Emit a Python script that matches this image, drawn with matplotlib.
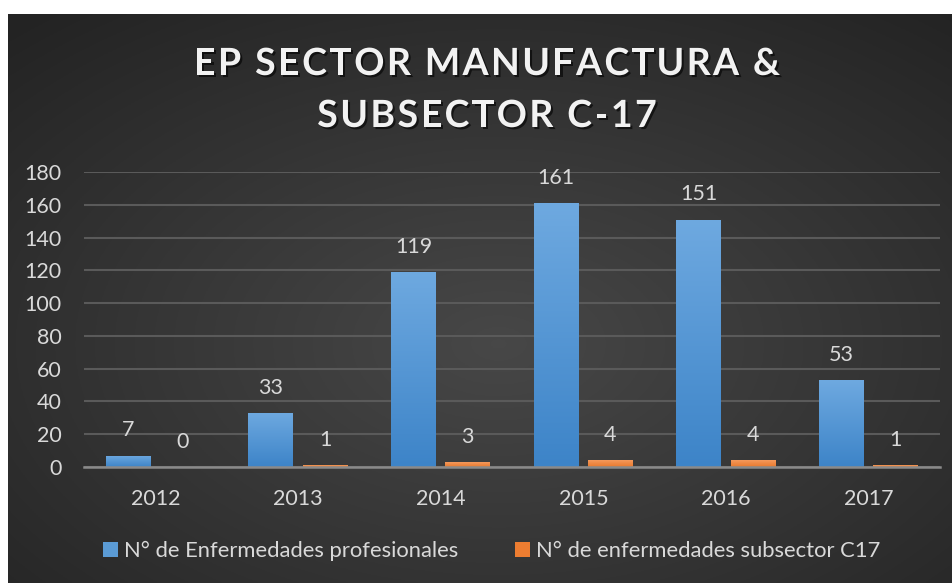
import numpy as np
import matplotlib
matplotlib.use('Agg')
import matplotlib.pyplot as plt
from matplotlib.patches import Patch
import matplotlib.patheffects as pe

# Data
years = ['2012', '2013', '2014', '2015', '2016', '2017']
ep_total = [7, 33, 119, 161, 151, 53]
ep_c17 = [0, 1, 3, 4, 4, 1]
series_names = ['N° de Enfermedades profesionales', 'N° de enfermedades subsector C17']
title_lines = ['EP SECTOR MANUFACTURA &', 'SUBSECTOR C-17']

plt.rcParams['font.family'] = ['Lato', 'DejaVu Sans']
txt_color = '#d9d9d9'
fs = 15.5

fig = plt.figure(figsize=(9.52, 5.83), dpi=100, facecolor='white')

# Dark panel with radial gradient
bg = fig.add_axes([8 / 952, 0, 944 / 952, 569 / 583], zorder=-5)
yy, xx = np.mgrid[0:1:300j, 0:1:500j]
r = np.sqrt(((xx - 0.52) / 0.75) ** 2 + ((yy - 0.42) / 0.75) ** 2)
shade = np.clip(0.28 - 0.14 * r, 0.14, 0.285)
bg.imshow(np.dstack([shade] * 3), extent=[0, 1, 0, 1], aspect='auto', origin='lower')
bg.set_axis_off()

ax = fig.add_axes([84 / 952, (583 - 467) / 583, 856 / 952, 295 / 583])
ax.set_facecolor('none')
x = np.arange(len(years))
w = 0.315
off = 0.19

def gradient_bars(bars, top, bottom):
    c1 = np.array(matplotlib.colors.to_rgb(top))
    c2 = np.array(matplotlib.colors.to_rgb(bottom))
    t = np.linspace(0, 1, 100)[:, None]
    img = (c2 * (1 - t) + c1 * t)[:, None, :]
    for b in bars:
        if b.get_height() <= 0:
            continue
        b.set_facecolor('none')
        bx, by = b.get_x(), b.get_y()
        im = ax.imshow(img, extent=[bx, bx + b.get_width(), by, by + b.get_height()],
                       aspect='auto', origin='lower', zorder=3)
        im.set_clip_path(b)

b1 = ax.bar(x - off, ep_total, w, color='#5b9bd5', zorder=3, linewidth=0)
b2 = ax.bar(x + off, ep_c17, w, color='#ed7d31', zorder=3, linewidth=0)
gradient_bars(b1, '#6ea9e0', '#3d84c8')
gradient_bars(b2, '#f59a5c', '#e9782c')

for bars, vals in [(b1, ep_total), (b2, ep_c17)]:
    for b, v in zip(bars, vals):
        ax.annotate(str(v), (b.get_x() + b.get_width() / 2, v), xytext=(0, 11),
                    textcoords='offset points', ha='center', va='bottom',
                    color=txt_color, fontsize=fs)

ax.set_xlim(-0.5, len(years) - 0.5)
ax.set_ylim(0, 180)
ax.set_yticks(range(0, 181, 20))
ax.set_xticks(x)
ax.set_xticklabels(years)
ax.yaxis.grid(True, color='#5a5a5a', linewidth=1.5, zorder=0)
ax.set_axisbelow(True)
for s in ['top', 'right', 'left']:
    ax.spines[s].set_visible(False)
ax.spines['bottom'].set_color('#8a8a8a')
ax.spines['bottom'].set_linewidth(1.8)
ax.spines['bottom'].set_zorder(4)
ax.tick_params(axis='both', length=0, colors=txt_color, labelsize=fs)
ax.tick_params(axis='y', pad=16)
ax.tick_params(axis='x', pad=16)

# Title with letter spacing, drawn one character at a time
renderer = fig.canvas.get_renderer()
title_kw = dict(fontsize=27, fontweight='bold', color='#f2f2f2', va='baseline', ha='left',
                path_effects=[pe.withSimplePatchShadow(offset=(1.5, -1.5),
                                                       shadow_rgbFace='black', alpha=0.6)])
spacing = 2.4  # px between letters
for line, base_y in zip(title_lines, [75, 127]):
    widths = []
    for ch in line:
        if ch == ' ':
            t = fig.text(0, 0, 'a a', **title_kw)
            wa = fig.text(0, 0, 'aa', **title_kw)
            widths.append(t.get_window_extent(renderer).width - wa.get_window_extent(renderer).width)
            t.remove(); wa.remove()
        else:
            t = fig.text(0, 0, ch, **title_kw)
            widths.append(t.get_window_extent(renderer).width)
            t.remove()
    total = sum(widths) + spacing * (len(line) - 1)
    cx = 487 - total / 2
    for ch, wd in zip(line, widths):
        if ch != ' ':
            fig.text(cx / 952, 1 - base_y / 583, ch, **title_kw)
        cx += wd + spacing

handles = [Patch(facecolor='#5b9bd5'), Patch(facecolor='#ed7d31')]
leg = fig.legend(handles, series_names, loc='center', ncol=2, frameon=False,
                 bbox_to_anchor=(492 / 952, 32 / 583), fontsize=15.8,
                 handlelength=0.65, handleheight=0.65, handletextpad=0.3, columnspacing=2.6)
for t in leg.get_texts():
    t.set_color(txt_color)

fig.savefig('out.png', dpi=100, facecolor='white')
